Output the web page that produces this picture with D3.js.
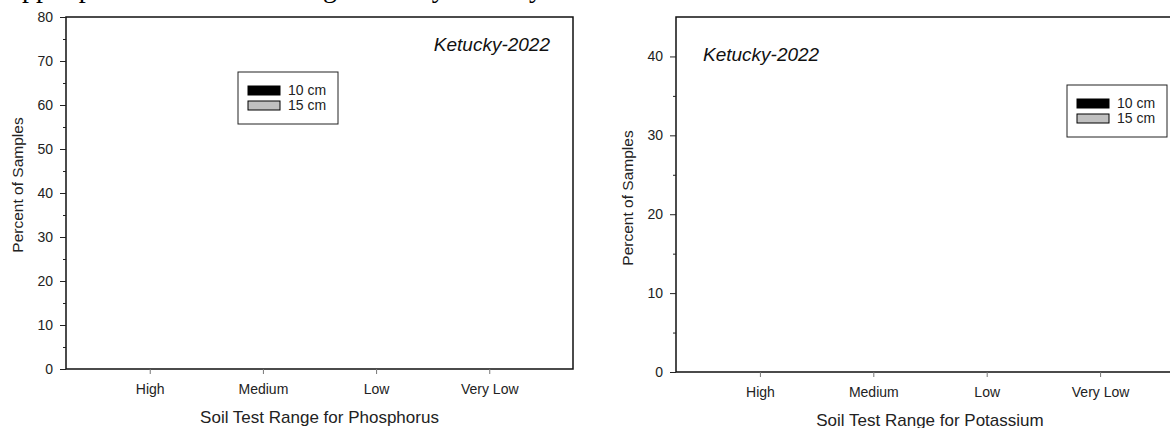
<!DOCTYPE html>
<html>
<head>
<meta charset="utf-8">
<script src="https://cdn.jsdelivr.net/npm/d3@7"></script>
<style>
  html, body { margin: 0; padding: 0; background: #fff; overflow: hidden; }
  svg { display: block; font-family: Arial, "Liberation Sans", sans-serif; }
</style>
</head>
<body>
<div id="chart"></div>
<script>
// Data
const categories = ["High", "Medium", "Low", "Very Low"];
const depths = ["10 cm", "15 cm"];
const depthColors = ["#000000", "#c0c0c0"];
// no bars are shown in the figure
const phosphorus10 = [0, 0, 0, 0];
const phosphorus15 = [0, 0, 0, 0];
const potassium10 = [0, 0, 0, 0];
const potassium15 = [0, 0, 0, 0];
const phosphorusTicks = [0, 10, 20, 30, 40, 50, 60, 70, 80];
const phosphorusMinor = [5, 15, 25, 35, 45, 55, 65, 75];
const potassiumTicks = [0, 10, 20, 30, 40];
const potassiumMinor = [5, 15, 25, 35];
const panelTitle = "Ketucky-2022";
const topLine = "upper portion of the low range where yield may not have been limited.";

const W = 1170, H = 428;
const ink = "#222";

const svg = d3.select("#chart").append("svg")
    .attr("width", W)
    .attr("height", H);

// cut-off line of document text at the very top
svg.append("text")
    .attr("x", 8)
    .attr("y", -3)
    .attr("font-family", "'Times New Roman', 'Liberation Serif', serif")
    .attr("font-size", 28)
    .attr("fill", "#000")
    .text(topLine);

function drawPanel(opt) {
    const g = svg.append("g");

    const x = d3.scalePoint()
        .domain(categories)
        .range([opt.left, opt.right])
        .padding(0.74);

    const y = d3.scaleLinear()
        .domain(opt.yDomain)
        .range([opt.bottom, opt.top]);

    const xInner = d3.scaleBand()
        .domain(depths)
        .range([-28, 28])
        .padding(0.1);

    // Bars
    const rows = [];
    categories.forEach((c, i) => {
        opt.values.forEach((vals, j) => {
            rows.push({ cat: c, depth: depths[j], value: vals[i], color: depthColors[j] });
        });
    });
    g.append("g").selectAll("rect")
        .data(rows.filter(d => d.value > 0))
        .join("rect")
        .attr("x", d => x(d.cat) + xInner(d.depth))
        .attr("width", xInner.bandwidth())
        .attr("y", d => y(d.value))
        .attr("height", d => y(0) - y(d.value))
        .attr("fill", d => d.color)
        .attr("stroke", "#000");

    // Frame
    g.append("path")
        .attr("d", `M${opt.left},${opt.bottom}V${opt.top}H${opt.right}V${opt.bottom}Z`)
        .attr("fill", "none")
        .attr("stroke", "#111")
        .attr("stroke-width", 1.5);

    // Y axis
    const yAx = g.append("g")
        .attr("transform", `translate(${opt.left},0)`)
        .call(d3.axisLeft(y).tickValues(opt.ticks).tickSize(6).tickPadding(7));
    yAx.select(".domain").remove();
    yAx.selectAll("line").attr("stroke", ink);
    yAx.selectAll("text").attr("font-size", 14).attr("fill", ink)
        .attr("font-family", "Arial, 'Liberation Sans', sans-serif");

    const yMin = g.append("g")
        .attr("transform", `translate(${opt.left},0)`)
        .call(d3.axisLeft(y).tickValues(opt.minor).tickSize(3).tickFormat(""));
    yMin.select(".domain").remove();
    yMin.selectAll("line").attr("stroke", ink);

    // X axis
    const xAx = g.append("g")
        .attr("transform", `translate(0,${opt.bottom})`)
        .call(d3.axisBottom(x).tickSize(5).tickPadding(10));
    xAx.select(".domain").remove();
    xAx.selectAll("line").attr("stroke", "#777");
    xAx.selectAll("text").attr("font-size", 14).attr("fill", ink)
        .attr("font-family", "Arial, 'Liberation Sans', sans-serif");

    // Axis titles
    g.append("text")
        .attr("x", (opt.left + opt.right) / 2)
        .attr("y", opt.bottom + 54)
        .attr("text-anchor", "middle")
        .attr("font-size", 17)
        .attr("fill", ink)
        .text(opt.xTitle);

    g.append("text")
        .attr("transform", `translate(${opt.yTitleX},${opt.yTitleY}) rotate(-90)`)
        .attr("text-anchor", "middle")
        .attr("font-size", 15.5)
        .attr("fill", ink)
        .text("Percent of Samples");

    // Panel title
    g.append("text")
        .attr("x", opt.titleX)
        .attr("y", opt.titleY)
        .attr("text-anchor", opt.titleAnchor)
        .attr("font-size", 19)
        .attr("font-style", "italic")
        .attr("fill", "#111")
        .text(panelTitle);

    // Legend
    const lg = g.append("g").attr("transform", `translate(${opt.legX},${opt.legY})`);
    lg.append("rect")
        .attr("width", 100).attr("height", 52)
        .attr("fill", "#fff").attr("stroke", ink);
    depths.forEach((d, i) => {
        lg.append("rect")
            .attr("x", 10).attr("y", 14 + i * 15)
            .attr("width", 32).attr("height", 9)
            .attr("fill", depthColors[i]).attr("stroke", "#000");
        lg.append("text")
            .attr("x", 50).attr("y", 23 + i * 15)
            .attr("font-size", 14)
            .attr("fill", ink)
            .text(d);
    });
}

drawPanel({
    left: 66, right: 573, top: 17, bottom: 369,
    yDomain: [0, 80], ticks: phosphorusTicks, minor: phosphorusMinor,
    values: [phosphorus10, phosphorus15],
    xTitle: "Soil Test Range for Phosphorus",
    yTitleX: 23, yTitleY: 185,
    titleX: 550, titleY: 51, titleAnchor: "end",
    legX: 238, legY: 72
});

drawPanel({
    left: 676, right: 1184, top: 17, bottom: 372,
    yDomain: [0, 45], ticks: potassiumTicks, minor: potassiumMinor,
    values: [potassium10, potassium15],
    xTitle: "Soil Test Range for Potassium",
    yTitleX: 633, yTitleY: 198,
    titleX: 703, titleY: 61, titleAnchor: "start",
    legX: 1067, legY: 85
});
</script>
</body>
</html>
